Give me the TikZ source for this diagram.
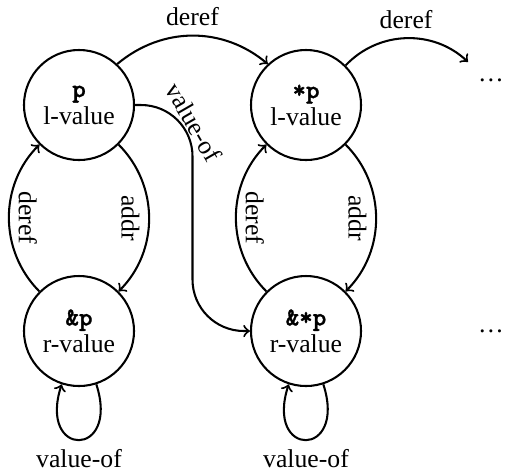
\documentclass[tikz,border=0pt]{standalone}
\usepackage{fontspec}
\setmainfont{Liberation Serif}
\newfontfamily\codefont{lmmonolt10-bold.otf}[FakeBold=1.2]
\usetikzlibrary{calc}
\begin{document}
\begin{tikzpicture}[x=0.389pt, y=0.389pt, thick, >=to,
  state/.style={circle, draw, minimum size=42.8pt, inner sep=0pt, align=center,
    font=\fontsize{10}{10.5}\selectfont},
  lbl/.style={font=\fontsize{10}{12}\selectfont, inner sep=3.33pt}]
\useasboundingbox (0,0) rectangle (506,-472);
\node[state] (p)   at (79,-105)  {{\codefont\bfseries p}\\l-value};
\node[state] (sp)  at (306,-105) {{\codefont\bfseries *p}\\l-value};
\node[state] (rp)  at (79,-331)  {{\codefont\bfseries \&p}\\r-value};
\node[state] (rsp) at (306,-331) {{\codefont\bfseries \&*p}\\r-value};
\node[lbl] (d1) at (491,-80) {\dots};
\node[lbl] (d2) at (491,-331) {\dots};
\coordinate (e1) at (468,-62);
\coordinate (vm) at ($(p.east)!0.5!(rsp.west)$);

\draw[->] (p.47) to[bend left=40] node[lbl, above] (l1) {deref} (sp.133);
\draw[->] (sp.45) to[bend left=45] node[lbl, above] (l2) {deref} (e1);
\draw[->, rounded corners=20pt] (p.east) -| (vm) |- (rsp.west);
\node[lbl, rotate=-60] (l3) at (194,-122) {value-of};

\draw[->] (rp.135) to[bend left=45] node[lbl, midway, anchor=south, rotate=-90] (l4) {deref} (p.225);
\draw[->] (p.-45) to[bend left=45] node[lbl, midway, anchor=north, rotate=-90] (l5) {addr} (rp.45);
\draw[->] (rsp.135) to[bend left=45] node[lbl, midway, anchor=south, rotate=-90] (l6) {deref} (sp.225);
\draw[->] (sp.-45) to[bend left=45] node[lbl, midway, anchor=north, rotate=-90] (l7) {addr} (rsp.45);

\draw[->] (rp.-72) .. controls +(-72:78) and +(-108:78) .. node[lbl, pos=0.5, below] (l8) {value-of} (rp.-108);
\draw[->] (rsp.-72) .. controls +(-72:78) and +(-108:78) .. node[lbl, pos=0.5, below] (l9) {value-of} (rsp.-108);
\end{tikzpicture}
\end{document}
